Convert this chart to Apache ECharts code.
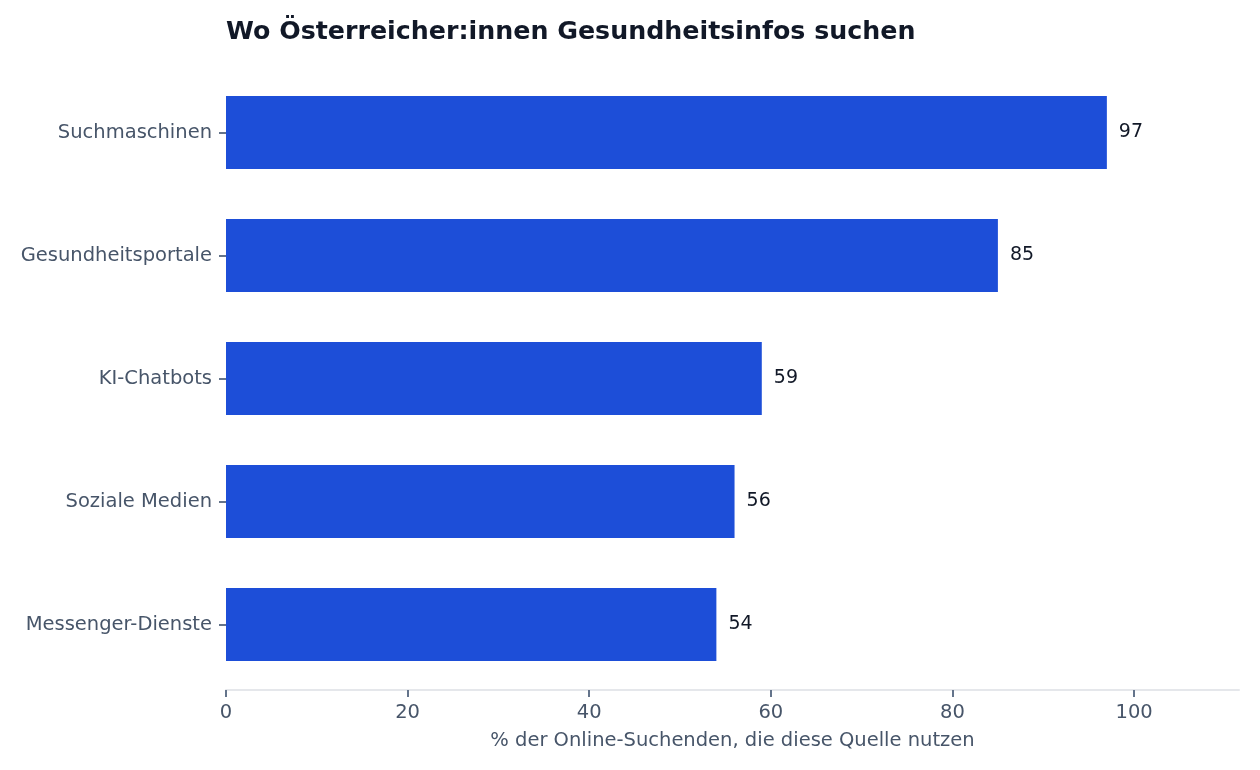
<!DOCTYPE html>
<html><head><meta charset="utf-8">
<script src="https://cdn.jsdelivr.net/npm/echarts@6/dist/echarts.min.js"></script>
<style>html,body{margin:0;padding:0;background:#fff}#c{width:1260px;height:770px}</style>
</head><body><div id="c"></div>
<script>
const categories = ["Suchmaschinen", "Gesundheitsportale", "KI-Chatbots", "Soziale Medien", "Messenger-Dienste"];
const values = [97, 85, 59, 56, 54];
const xTicks = [0, 20, 40, 60, 80, 100];
const titleText = "Wo Österreicher:innen Gesundheitsinfos suchen";
const xName = "% der Online-Suchenden, die diese Quelle nutzen";

const chart = echarts.init(document.getElementById('c'), null, {renderer: 'canvas'});
const font = "DejaVu Sans";
chart.setOption({
  animation: false,
  textStyle: {fontFamily: font},
  title: {
    text: titleText, left: 221, top: 15,
    textStyle: {fontFamily: font, fontSize: 25.3, fontWeight: 'bold', color: '#111827'}
  },
  grid: {left: 226, right: 21, top: 71, bottom: 84, containLabel: false},
  xAxis: {
    type: 'value', min: 0, max: 111.55, interval: 20,
    offset: 4,
    axisLine: {show: true, lineStyle: {color: '#e5e7eb', width: 2}},
    axisTick: {show: true, length: 7, lineStyle: {color: '#64748b', width: 2},
      customValues: xTicks},
    axisLabel: {color: '#475569', fontSize: 19.5, margin: 13, customValues: xTicks,
      formatter: v => String(v)},
    splitLine: {show: false},
    name: xName, nameLocation: 'middle', nameGap: 41,
    nameTextStyle: {color: '#475569', fontSize: 19.5}
  },
  yAxis: {
    type: 'category', data: categories, inverse: true,
    axisLine: {show: false},
    axisTick: {show: true, length: 7, alignWithLabel: true, lineStyle: {color: '#64748b', width: 2}},
    axisLabel: {color: '#475569', fontSize: 19.5, margin: 14, padding: [2, 0, 0, 0]}
  },
  series: [{
    type: 'bar', data: values, barWidth: 73,
    itemStyle: {color: '#1d4ed8'},
    label: {show: true, position: 'right', distance: 12, color: '#111827', fontSize: 19}
  }]
});
</script></body></html>
